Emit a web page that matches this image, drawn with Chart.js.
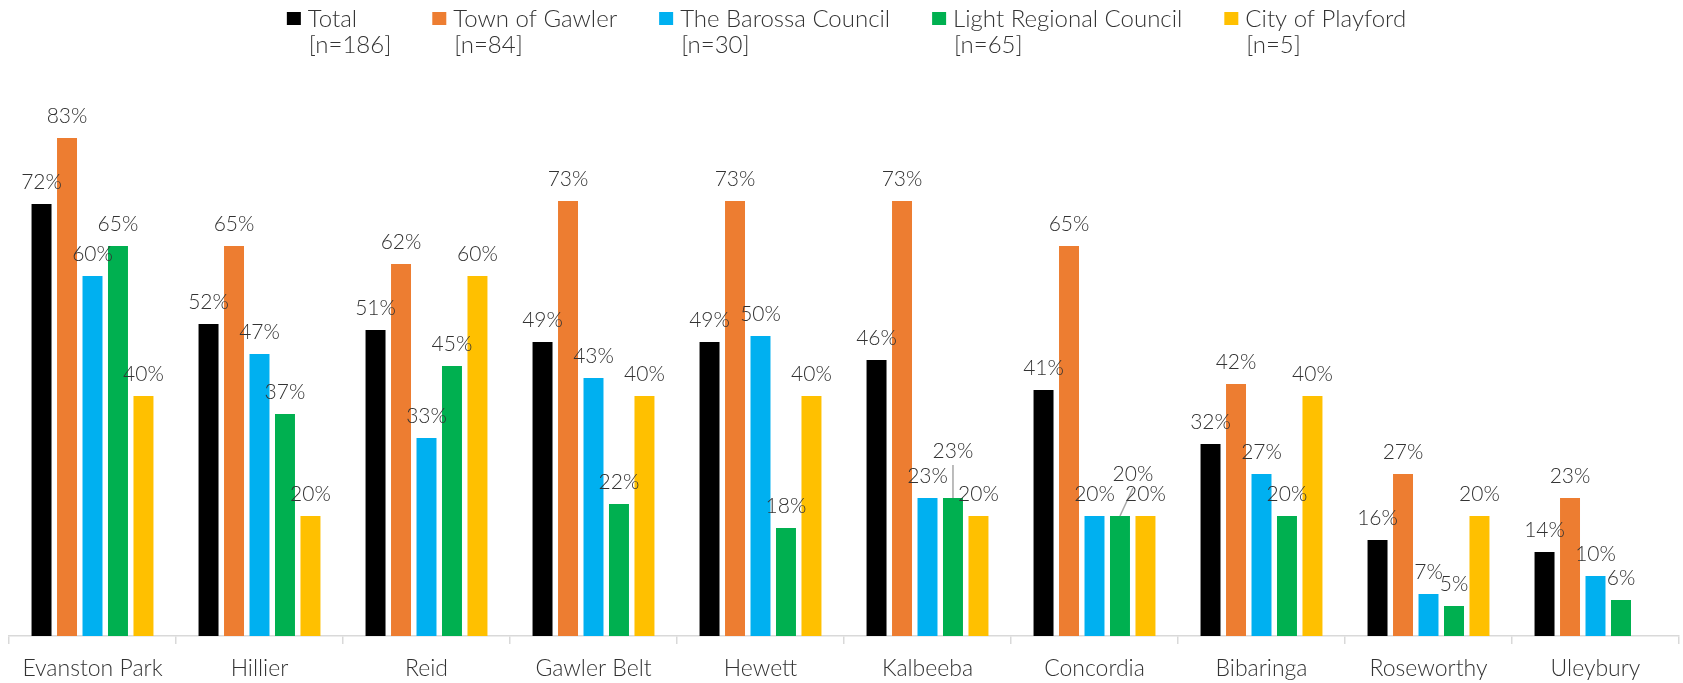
<!DOCTYPE html>
<html>
<head>
<meta charset="utf-8">
<script src="https://cdn.jsdelivr.net/npm/chart.js@4"></script>
<style>
  html, body { margin: 0; padding: 0; background: #fff; }
</style>
</head>
<body>
<canvas id="myChart" width="1683" height="683"></canvas>
<script>
// categories + series (percent)
const suburbs = ['Evanston Park', 'Hillier', 'Reid', 'Gawler Belt', 'Hewett', 'Kalbeeba', 'Concordia', 'Bibaringa', 'Roseworthy', 'Uleybury'];

const seriesNames = ['Total', 'Town of Gawler', 'The Barossa Council', 'Light Regional Council', 'City of Playford'];
const sampleSizes = ['[n=186]', '[n=84]', '[n=30]', '[n=65]', '[n=5]'];
const seriesColors = ['#000000', '#ED7D31', '#00B0F0', '#00B050', '#FFC000'];

const total    = [72, 52, 51, 49, 49, 46, 41, 32, 16, 14];
const gawler   = [83, 65, 62, 72.5, 72.5, 72.5, 65, 42, 27, 23];
const barossa  = [60, 47, 33, 43, 50, 23, 20, 27, 7, 10];
const light    = [65, 37, 45, 22, 18, 23, 20, 20, 5, 6];
const playford = [40, 20, 60, 40, 40, 20, 20, 40, 20, null];

// labels that were moved off their bar (with a leader line)
const movedLabels = [
  { cat: 5, ds: 3, dx: 0, dy: -25 },
  { cat: 6, ds: 3, dx: 13, dy: -20 }
];

const FONT = 'Lato, "Open Sans", sans-serif';
const TEXT = '#333333';

// legend drawn by hand: two lines per item
const twoLineLegend = {
  id: 'twoLineLegend',
  afterDraw(chart) {
    const ctx = chart.ctx;
    ctx.save();
    ctx.font = '300 24px ' + FONT;
    const sq = 14, toText = 21, gap = 42;
    const widths = seriesNames.map((n, i) =>
      toText + Math.max(ctx.measureText(n).width, ctx.measureText(sampleSizes[i]).width));
    const full = widths.reduce((a, b) => a + b, 0) + gap * (widths.length - 1);
    let x = (chart.width - full) / 2 + 5;
    seriesNames.forEach((n, i) => {
      ctx.fillStyle = seriesColors[i];
      ctx.fillRect(x, 12, sq, 13);
      ctx.fillStyle = TEXT;
      ctx.textBaseline = 'alphabetic';
      ctx.textAlign = 'left';
      ctx.fillText(n, x + toText, 27);
      ctx.fillText(sampleSizes[i], x + toText + 1, 53);
      x += widths[i] + gap;
    });
    ctx.restore();
  }
};

// value labels above bars
const valueLabels = {
  id: 'valueLabels',
  afterDatasetsDraw(chart) {
    const ctx = chart.ctx;
    ctx.save();
    ctx.font = '300 21px ' + FONT;
    ctx.textAlign = 'center';
    ctx.textBaseline = 'alphabetic';
    chart.data.datasets.forEach((ds, di) => {
      const meta = chart.getDatasetMeta(di);
      meta.data.forEach((bar, ci) => {
        const v = ds.data[ci];
        if (v == null) return;
        const mv = movedLabels.find(m => m.cat === ci && m.ds === di);
        const dx = mv ? mv.dx : 0;
        const dy = mv ? mv.dy : 0;
        const ty = bar.y - 15 + dy;
        if (mv) {
          ctx.strokeStyle = '#a6a6a6';
          ctx.lineWidth = 1.5;
          ctx.beginPath();
          ctx.moveTo(bar.x + dx, ty + 7);
          ctx.lineTo(bar.x, bar.y);
          ctx.stroke();
        }
        ctx.fillStyle = TEXT;
        ctx.fillText(Math.round(v) + '%', bar.x + dx, ty);
      });
    });
    ctx.restore();
  }
};

const allSeries = [total, gawler, barossa, light, playford];

new Chart(document.getElementById('myChart'), {
  type: 'bar',
  data: {
    labels: suburbs,
    datasets: allSeries.map((vals, i) => ({
      label: seriesNames[i],
      data: vals,
      backgroundColor: seriesColors[i],
      categoryPercentage: 0.763,
      barPercentage: 0.784
    }))
  },
  options: {
    responsive: false,
    animation: false,
    devicePixelRatio: 1,
    layout: { padding: { top: 36, left: 9, right: 4, bottom: 0 } },
    plugins: {
      legend: { display: false },
      tooltip: { enabled: false }
    },
    scales: {
      y: { display: false, min: 0, max: 100 },
      x: {
        afterFit(scale) { scale.height = 47; },
        border: { color: '#d9d9d9', width: 1.5 },
        grid: {
          offset: true,
          drawOnChartArea: false,
          drawTicks: true,
          tickLength: 8,
          color: '#d9d9d9',
          lineWidth: 1.5
        },
        ticks: {
          color: TEXT,
          font: { family: FONT, size: 23, weight: '300' },
          padding: 11,
          maxRotation: 0,
          autoSkip: false
        }
      }
    }
  },
  plugins: [twoLineLegend, valueLabels]
});
</script>
</body>
</html>
